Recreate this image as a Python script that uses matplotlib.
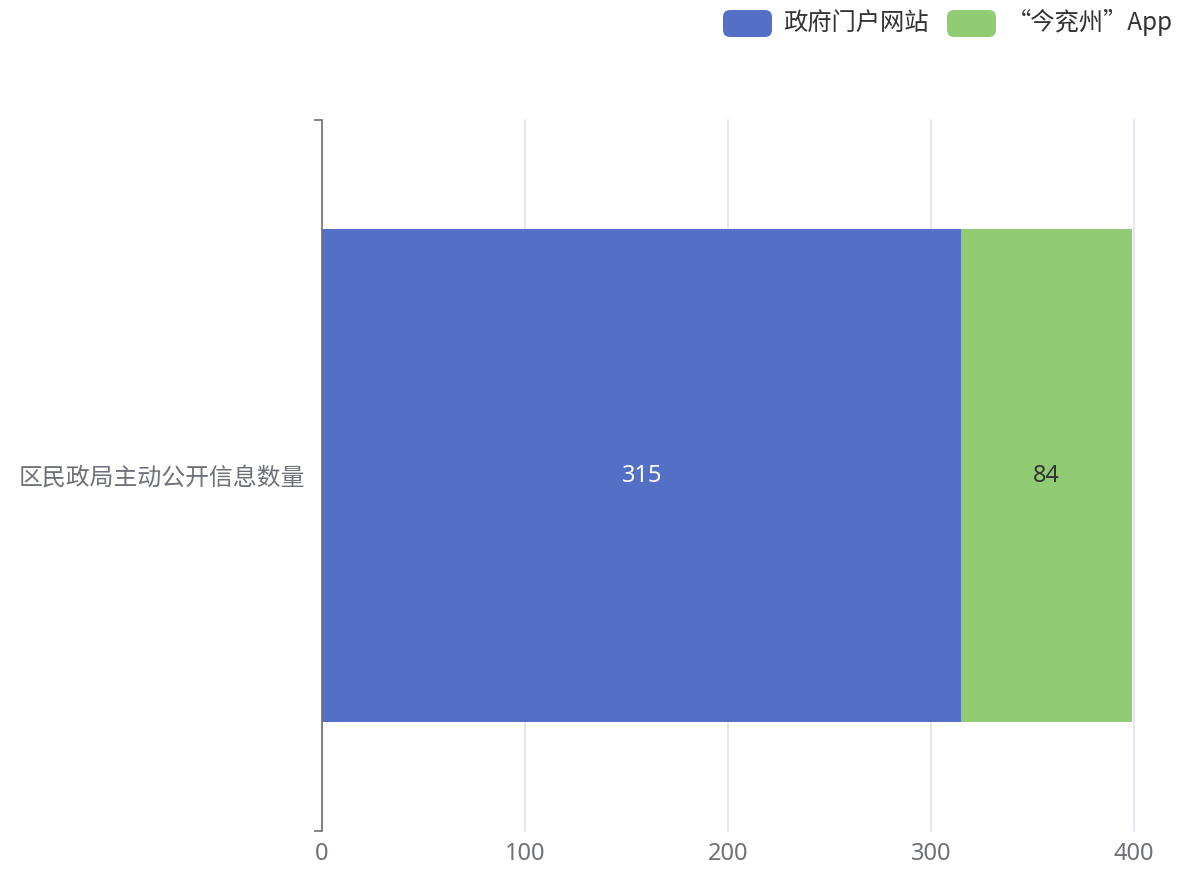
import matplotlib.pyplot as plt
from matplotlib.patches import FancyBboxPatch

plt.rcParams['font.family'] = ['Noto Sans', 'Noto Sans CJK SC']

categories = ['区民政局主动公开信息数量']
series_names = ['政府门户网站', '“今兖州”App']
website = [315]
app = [84]
colors = ['#5470C6', '#91CC75']
label_colors = ['#FFFFFF', '#333333']
x_ticks = [0, 100, 200, 300, 400]

fig = plt.figure(figsize=(11.84, 8.82), dpi=100)
ax = fig.add_axes([322 / 1184, 1 - 831 / 882, (1134 - 322) / 1184, (831 - 120) / 882])

left = [0] * len(categories)
for name, vals, c, lc in zip(series_names, [website, app], colors, label_colors):
    bars = ax.barh(range(len(categories)), vals, left=left, height=0.692, color=c, zorder=3)
    ax.bar_label(bars, labels=[str(v) for v in vals], label_type='center',
                 color=lc, fontsize=17)
    left = [l + v for l, v in zip(left, vals)]

ax.set_xlim(0, 400)
ax.set_ylim(-0.5, len(categories) - 0.5)
ax.set_xticks(x_ticks)
ax.set_xticklabels([str(t) for t in x_ticks])
ax.set_yticks([-0.5, 0.5])
ax.set_yticklabels(['', ''])
ax.set_yticks([0], labels=categories, minor=True)
for t in ax.get_yticklabels(minor=True):
    t.set_family(['Noto Sans CJK SC'])

ax.grid(axis='x', color='#DDE2EE', linewidth=1.1, zorder=0)
for gl in ax.get_xgridlines():
    gl.set_clip_on(False)
for s in ['top', 'right', 'bottom']:
    ax.spines[s].set_visible(False)
ax.spines['left'].set_color('#6E7079')
ax.spines['left'].set_linewidth(1.2)
ax.spines['left'].set_zorder(4)

ax.tick_params(axis='x', length=0, pad=8, labelsize=17, labelcolor='#6E7079')
ax.tick_params(axis='y', which='major', length=6, width=1.2, color='#6E7079')
ax.tick_params(axis='y', which='minor', length=0, pad=12, labelsize=17.2, labelcolor='#6E7079')

# legend drawn by hand, in pixel coordinates of the figure
W, H = 1184, 882
legend_x = [723, 947]
for x0, name, c in zip(legend_x, series_names, colors):
    box = FancyBboxPatch((x0 / W, 1 - 37 / H), 49 / W, 27 / H,
                         boxstyle='round,pad=0,rounding_size=0.006',
                         transform=fig.transFigure, facecolor=c, edgecolor='none',
                         mutation_aspect=W / H)
    fig.patches.append(box)
    fig.text((x0 + 60) / W, 1 - 23 / H, name, fontsize=17.5, color='#333333',
             va='center', ha='left', family=['Noto Sans CJK SC'])

fig.savefig('out.png', dpi=100)
